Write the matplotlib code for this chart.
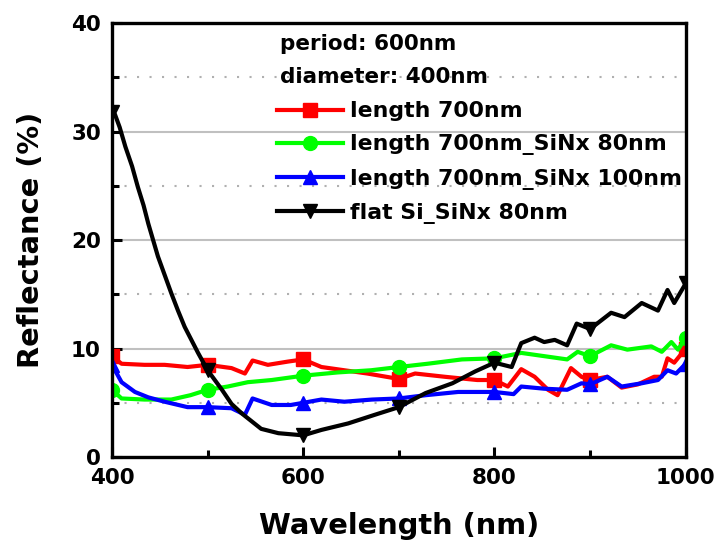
import numpy as np
import matplotlib.pyplot as plt
from matplotlib.ticker import MultipleLocator

plt.rcParams['font.family'] = ['DejaVu Sans']
plt.rcParams['font.weight'] = 'bold'

# length 700nm
wl_red = [400, 410, 434, 455, 479, 500, 525, 539, 547, 563, 584, 600, 619, 643, 667, 700,
          717, 748, 782, 800, 814, 828, 842, 856, 866, 880, 891, 900, 918, 933, 950, 967,
          975, 981, 988, 1000]
r_red = [9.3, 8.6, 8.5, 8.5, 8.3, 8.5, 8.2, 7.7, 8.9, 8.5, 8.8, 9.0, 8.3, 8.0, 7.7, 7.2,
         7.7, 7.4, 7.1, 7.1, 6.5, 8.1, 7.4, 6.2, 5.7, 8.2, 7.4, 7.1, 7.4, 6.4, 6.7, 7.4,
         7.4, 9.1, 8.7, 10.0]

# length 700nm_SiNx 80nm
wl_green = [400, 410, 434, 462, 482, 500, 521, 542, 567, 600, 636, 671, 700, 730, 766, 800,
            828, 852, 876, 887, 900, 922, 939, 964, 975, 985, 992, 1000]
r_green = [6.2, 5.4, 5.3, 5.3, 5.7, 6.2, 6.5, 6.9, 7.1, 7.5, 7.8, 8.0, 8.3, 8.6, 9.0, 9.1,
           9.6, 9.3, 9.0, 9.7, 9.3, 10.3, 9.9, 10.2, 9.7, 10.6, 9.9, 11.0]

# length 700nm_SiNx 100nm
wl_blue = [400, 410, 424, 438, 455, 479, 500, 525, 539, 547, 567, 587, 600, 619, 643, 672,
           700, 728, 762, 800, 820, 828, 852, 876, 891, 900, 918, 933, 954, 971, 981, 990, 1000]
r_blue = [8.5, 6.9, 6.0, 5.5, 5.1, 4.6, 4.6, 4.5, 3.9, 5.4, 4.8, 4.8, 5.0, 5.3, 5.1, 5.3,
          5.4, 5.7, 6.0, 6.0, 5.8, 6.5, 6.3, 6.2, 6.8, 6.7, 7.4, 6.5, 6.8, 7.1, 8.0, 7.7, 8.6]

# flat Si_SiNx 80nm
wl_black = [400, 403, 408, 414, 421, 427, 433, 438, 443, 448, 455, 462, 469, 476, 483, 490,
            500, 515, 525, 536, 546, 556, 574, 600, 619, 647, 675, 700, 728, 756, 780, 800,
            818, 828, 842, 852, 863, 876, 886, 900, 922, 936, 954, 971, 981, 988, 1000]
r_black = [31.8, 31.6, 30.4, 28.6, 26.8, 24.9, 23.2, 21.5, 20.0, 18.5, 16.8, 15.1, 13.5, 12.0,
           10.8, 9.6, 8.0, 6.2, 4.9, 4.0, 3.3, 2.6, 2.2, 2.0, 2.5, 3.1, 3.9, 4.6, 5.9, 6.8,
           7.9, 8.7, 8.3, 10.5, 11.0, 10.6, 10.8, 10.3, 12.3, 11.8, 13.3, 12.9, 14.2, 13.5,
           15.4, 14.2, 16.0]

series = [
    (wl_red, r_red, '#ff0000', 's', 'length 700nm'),
    (wl_green, r_green, '#00ff00', 'o', 'length 700nm_SiNx 80nm'),
    (wl_blue, r_blue, '#0000ff', '^', 'length 700nm_SiNx 100nm'),
    (wl_black, r_black, '#000000', 'v', 'flat Si_SiNx 80nm'),
]

fig = plt.figure(figsize=(7.18, 5.5), dpi=100)
ax = fig.add_axes([0.156, 0.169, 0.799, 0.789])

for wl, r, c, m, lab in series:
    idx = [i for i, w in enumerate(wl) if w % 100 == 0]
    ax.plot(wl, r, color=c, lw=3, marker=m, markersize=10, markevery=idx,
            label=lab, solid_joinstyle='round')

ax.set_xlim(400, 1000)
ax.set_ylim(0, 40)
ax.xaxis.set_major_locator(MultipleLocator(200))
ax.xaxis.set_minor_locator(MultipleLocator(100))
ax.yaxis.set_major_locator(MultipleLocator(10))
ax.yaxis.set_minor_locator(MultipleLocator(5))

ax.grid(True, which='major', axis='y', color='#c0c0c0', lw=1.5, ls='-')
ax.grid(True, which='minor', axis='y', color='#b0b0b0', lw=1.5, ls=(0, (1, 5)))
ax.set_axisbelow(True)

ax.tick_params(which='both', direction='in', top=False, right=False, width=2.2)
ax.tick_params(which='major', length=7, labelsize=15.5)
ax.tick_params(axis='x', which='major', pad=8)
ax.tick_params(axis='y', which='major', pad=8)
ax.tick_params(which='minor', length=5)
for sp in ax.spines.values():
    sp.set_linewidth(2.4)

ax.set_xlabel('Wavelength (nm)', fontsize=20.8, fontweight='bold', labelpad=17)
ax.set_ylabel('Reflectance (%)', fontsize=20.8, fontweight='bold', labelpad=19)

ax.text(0.293, 0.952, 'period: 600nm', transform=ax.transAxes, fontsize=15.5,
        fontweight='bold', va='center', ha='left')
ax.text(0.293, 0.876, 'diameter: 400nm', transform=ax.transAxes, fontsize=15.5,
        fontweight='bold', va='center', ha='left')
leg = ax.legend(loc='upper left', bbox_to_anchor=(0.2875, 0.82), frameon=False,
                fontsize=15.8, handlelength=3.0, handletextpad=0.33, labelspacing=0.6,
                borderaxespad=0, borderpad=0)
for t in leg.get_texts():
    t.set_fontweight('bold')

fig.savefig('out.png', dpi=100)
